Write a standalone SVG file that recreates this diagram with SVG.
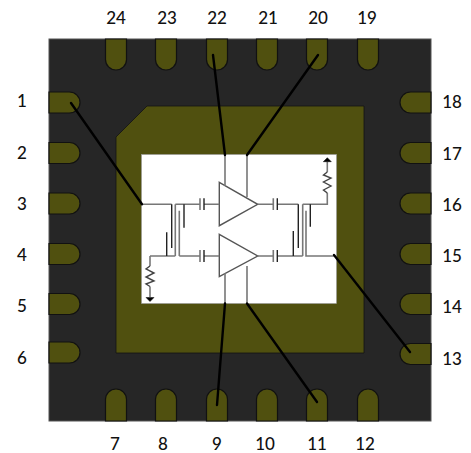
<svg xmlns="http://www.w3.org/2000/svg" width="471" height="453" viewBox="0 0 471 453">
<defs>
<style>
text{font-family:"Lato","Open Sans",sans-serif;font-size:17px;font-weight:500;fill:#111;text-anchor:middle}
.pin{fill:#50500f;stroke:#111;stroke-width:1.2}
.w{fill:none;stroke:#777;stroke-width:1.6}
.r{fill:none;stroke:#444;stroke-width:1.4}
.d{fill:none;stroke:#222;stroke-width:1.4}
.b{fill:none;stroke:#000;stroke-width:2.4;stroke-linecap:round}
.amp{fill:#fff;stroke:#555;stroke-width:1.4}
</style>
<path id="lp" class="pin" d="M49 -10.5H69.5A10.5 10.5 0 0 1 69.5 10.5H49Z"/>
<path id="rp" class="pin" d="M431 -10.5H410.5A10.5 10.5 0 0 0 410.5 10.5H431Z"/>
<path id="tp" class="pin" d="M-10.5 39V59.5A10.5 10.5 0 0 0 10.5 59.5V39Z"/>
<path id="bp" class="pin" d="M-10.5 421V399.5A10.5 10.5 0 0 1 10.5 399.5V421Z"/>
</defs>
<rect width="471" height="453" fill="#fff"/>
<g id="package">
<rect x="49" y="39" width="382" height="382" fill="#262626" stroke="#555" stroke-width="1"/>
<path d="M147 106H364V353H116V137Z" fill="#50500f" stroke="#111" stroke-width="0.8"/>
<rect x="141.5" y="154.5" width="195" height="149" fill="#fff" stroke="#999" stroke-width="0.6"/>
</g>
<g id="pins">
<g id="pin1"><use href="#lp" y="102.5"/><text x="22" y="107">1</text></g>
<g id="pin2"><use href="#lp" y="153"/><text x="22" y="159">2</text></g>
<g id="pin3"><use href="#lp" y="203.5"/><text x="22" y="210">3</text></g>
<g id="pin4"><use href="#lp" y="254"/><text x="22" y="261">4</text></g>
<g id="pin5"><use href="#lp" y="304"/><text x="22" y="312">5</text></g>
<g id="pin6"><use href="#lp" y="352.5"/><text x="22" y="364">6</text></g>
<g id="pin7"><use href="#bp" x="116"/><text x="115" y="450">7</text></g>
<g id="pin8"><use href="#bp" x="166"/><text x="163" y="450">8</text></g>
<g id="pin9"><use href="#bp" x="217"/><text x="217" y="450">9</text></g>
<g id="pin10"><use href="#bp" x="267"/><text x="265" y="450">10</text></g>
<g id="pin11"><use href="#bp" x="317"/><text x="317" y="450">11</text></g>
<g id="pin12"><use href="#bp" x="368"/><text x="365" y="450">12</text></g>
<g id="pin13"><use href="#rp" y="354"/><text x="452" y="365">13</text></g>
<g id="pin14"><use href="#rp" y="304"/><text x="452" y="313">14</text></g>
<g id="pin15"><use href="#rp" y="254"/><text x="452" y="262">15</text></g>
<g id="pin16"><use href="#rp" y="203.5"/><text x="452" y="211">16</text></g>
<g id="pin17"><use href="#rp" y="153"/><text x="452" y="160">17</text></g>
<g id="pin18"><use href="#rp" y="102.5"/><text x="452" y="108">18</text></g>
<g id="pin19"><use href="#tp" x="368"/><text x="367" y="24">19</text></g>
<g id="pin20"><use href="#tp" x="317"/><text x="318" y="24">20</text></g>
<g id="pin21"><use href="#tp" x="267"/><text x="268" y="24">21</text></g>
<g id="pin22"><use href="#tp" x="217"/><text x="217" y="24">22</text></g>
<g id="pin23"><use href="#tp" x="166"/><text x="167" y="24">23</text></g>
<g id="pin24"><use href="#tp" x="116"/><text x="116" y="24">24</text></g>
</g>
<g id="amp-top"><path class="amp" d="M219.3 182.3L257.7 204.3L219.3 225.7Z"/></g>
<g id="amp-bottom"><path class="amp" d="M219.3 234.3L257.7 256L219.3 276.7Z"/></g>
<g id="connectors">
<path class="w" d="M141.5 204.3H171.7M175.3 204.3H200M204 204.3H219.3M175.3 204.3V256M179.3 210.7V256M150 256H175.3M179.3 256H200M204 256H219.3M150 256V266M150 286.5V297M257.7 204.3H273.3M277.3 204.3H298.3M302.7 204.3V256M277.3 256H302.7M257.7 256H273.3M302.7 204.3H327.3V193M327.3 172V162M306 210.7V256H334M225 154.5V186M247 154.5V197M225 273V303.5M247 266V303.5"/>
<path class="r" d="M150 266L146 269L154 273L146 277L154 281L146 284L150 286.5M327.3 193L323.5 190L331 186L323.5 182L331 178L323.5 175L327.3 172"/>
<path class="d" d="M171.7 204.3V248M184 204.3V227.7M166.7 232.3V256M298.3 204.3V248M310.3 204.3V226.7M293.3 231V256"/>
<path class="w" d="M200 198.3V210M273.3 198.3V210M273.3 250V262M200 250V262"/>
<path class="d" d="M204 198.3V210M277.3 198.3V210M277.3 250V262M204 250V262"/>
<path d="M146 297.5H154L150 301.5ZM323.3 161.7H331.3L327.3 157.7Z" fill="#000" stroke="#000" stroke-width="0.5"/>
<path class="b" d="M71 103L142 204.3M213 55L225 155M318 55L247 155M410 352L334 255M217 405L225 303.5M317 402L247 303.5"/>
</g>
</svg>
